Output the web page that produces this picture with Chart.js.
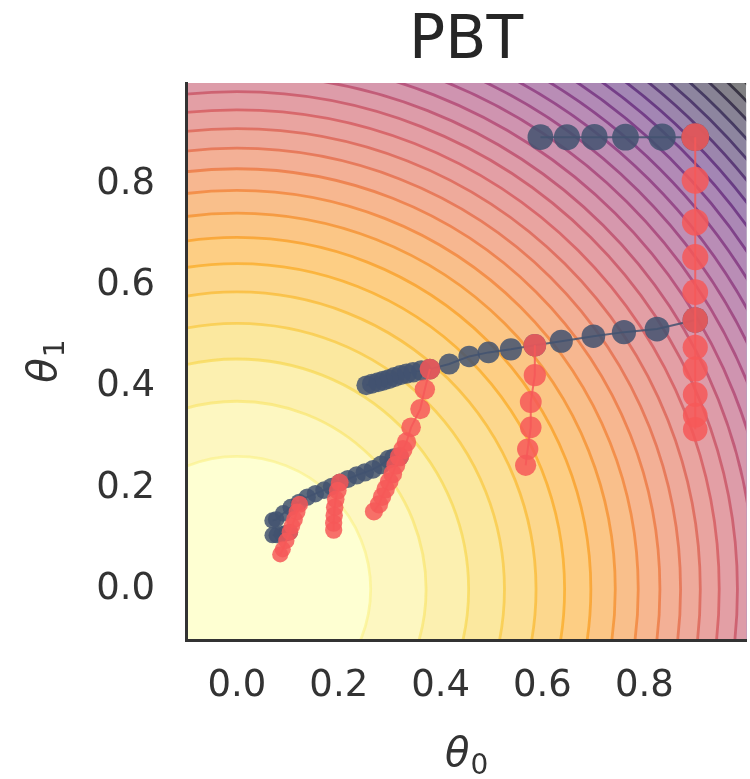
<!DOCTYPE html>
<html>
<head>
<meta charset="utf-8">
<script src="https://cdn.jsdelivr.net/npm/chart.js@4.4.1/dist/chart.umd.min.js"></script>
<style>
  html, body { margin: 0; padding: 0; overflow: hidden; background: #ffffff; width: 750px; height: 779px; }
  #wrap { width: 760px; height: 779px; position: relative; }
</style>
</head>
<body>
<div id="wrap"><canvas id="c" width="760" height="779"></canvas></div>
<script>
// ---------------- data ----------------
const chartTitle = 'PBT';
const xTitle = ['θ', '0'];   // θ with subscript 0
const yTitle = ['θ', '1'];   // θ with subscript 1
const xTicks = [0.0, 0.2, 0.4, 0.6, 0.8];
const yTicks = [0.0, 0.2, 0.4, 0.6, 0.8];

// objective Q(θ) = 1.2 − (θ0² + θ1²); filled contour levels of Q
const objectivePeak = 1.2;
const contourLevels = [-0.8, -0.731, -0.662, -0.593, -0.524, -0.455, -0.386, -0.317, -0.248, -0.179,
  -0.110, -0.041, 0.028, 0.097, 0.166, 0.234, 0.303, 0.372, 0.441, 0.510,
  0.579, 0.648, 0.717, 0.786, 0.855, 0.924, 0.993, 1.062, 1.131, 1.2];

// worker trajectories [θ0, θ1] (blue worker and red worker, one array per run between exploits)
const blueRun1 = [[0.900,0.893],[0.835,0.893],[0.763,0.893],[0.702,0.893],[0.648,0.893],[0.596,0.893]];
const blueRun2 = [[0.900,0.532],[0.825,0.514],[0.760,0.508],[0.700,0.500],[0.637,0.490],[0.585,0.482],
  [0.538,0.474],[0.494,0.468],[0.456,0.460],[0.417,0.445],[0.379,0.435],[0.362,0.432],[0.346,0.429],
  [0.333,0.426],[0.321,0.423],[0.309,0.419],[0.298,0.415],[0.287,0.412],[0.277,0.409],[0.265,0.406],[0.254,0.403]];
const blueRun3 = [[0.319,0.262],[0.308,0.260],[0.298,0.257],[0.283,0.246],[0.267,0.237],[0.251,0.231],
  [0.235,0.225],[0.218,0.218],[0.202,0.211],[0.186,0.203],[0.171,0.196],[0.154,0.189],[0.138,0.182],
  [0.122,0.172],[0.106,0.162],[0.091,0.150],[0.077,0.138],[0.070,0.136]];
const blueRun4 = [[0.104,0.113],[0.096,0.111],[0.088,0.109],[0.078,0.107],[0.070,0.107]];

const redRun1 = [[0.900,0.893],[0.900,0.808],[0.900,0.725],[0.900,0.656],[0.900,0.587],[0.900,0.532],
  [0.900,0.478],[0.900,0.435],[0.900,0.385],[0.900,0.344],[0.900,0.316]];
const redRun2 = [[0.585,0.482],[0.585,0.423],[0.577,0.370],[0.577,0.320],[0.571,0.277],[0.567,0.245]];
const redRun3 = [[0.379,0.435],[0.369,0.395],[0.360,0.356],[0.342,0.320],[0.333,0.291],[0.326,0.276],
  [0.319,0.262],[0.312,0.245],[0.306,0.228],[0.299,0.213],[0.292,0.198],[0.285,0.183],[0.279,0.168],[0.269,0.154]];
const redRun4 = [[0.202,0.211],[0.198,0.195],[0.194,0.178],[0.192,0.162],[0.191,0.146],[0.190,0.131],[0.190,0.117]];
const redRun5 = [[0.123,0.168],[0.118,0.153],[0.113,0.138],[0.108,0.125],[0.104,0.113],[0.097,0.096],
  [0.090,0.079],[0.085,0.069]];

// ---------------- styles ----------------
const INFERNO = ['#000004','#1B0C42','#4B0C6B','#781C6D','#A52C60','#CF4446','#ED6925','#FB9A06','#F7D03C','#FCFFA4']
  .map(h => [parseInt(h.slice(1,3),16), parseInt(h.slice(3,5),16), parseInt(h.slice(5,7),16)]);
function inferno(t) {
  t = Math.max(0, Math.min(1, t));
  const p = t * (INFERNO.length - 1);
  const i = Math.min(INFERNO.length - 2, Math.floor(p));
  const f = p - i;
  return INFERNO[i].map((v, k) => v + (INFERNO[i + 1][k] - v) * f);
}
const FILL_ALPHA = 0.5, LINE_ALPHA = 0.6;
const blend = (c, a) => `rgb(${c.map(v => Math.round(v * a + 255 * (1 - a))).join(',')})`;
const rgba = (c, a) => `rgba(${c.map(Math.round).join(',')},${a})`;

const BLUE = 'rgba(66,82,112,0.85)';
const RED = 'rgba(246,88,88,0.85)';
const TEXT = '#333333';

const contourPlugin = {
  id: 'contourBackground',
  beforeDraw(chart) {
    const { ctx, chartArea: a, scales: { x, y } } = chart;
    const cx = x.getPixelForValue(0), cy = y.getPixelForValue(0);
    const ux = x.getPixelForValue(1) - cx, uy = cy - y.getPixelForValue(1);
    const n = contourLevels.length;
    ctx.save();
    ctx.beginPath();
    ctx.rect(a.left, a.top, a.right - a.left, a.bottom - a.top);
    ctx.clip();
    ctx.fillStyle = blend(inferno(0), FILL_ALPHA);
    ctx.fillRect(a.left, a.top, a.right - a.left, a.bottom - a.top);
    for (let j = 1; j < n - 1; j++) {
      const r = Math.sqrt(objectivePeak - contourLevels[j]);
      ctx.beginPath();
      ctx.ellipse(cx, cy, r * ux, r * uy, 0, 0, Math.PI * 2);
      ctx.fillStyle = blend(inferno(j / (n - 2)), FILL_ALPHA);
      ctx.fill();
    }
    ctx.lineWidth = 2.8;
    for (let j = 0; j < n - 1; j++) {
      const r = Math.sqrt(objectivePeak - contourLevels[j]);
      ctx.beginPath();
      ctx.ellipse(cx, cy, r * ux, r * uy, 0, 0, Math.PI * 2);
      ctx.strokeStyle = rgba(inferno(j / (n - 1)), LINE_ALPHA);
      ctx.stroke();
    }
    ctx.restore();
  }
};

// axis titles: italic θ with a subscript digit
function drawSubscripted(ctx, parts, size) {
  ctx.font = `italic ${size}px "DejaVu Sans"`;
  const w1 = ctx.measureText(parts[0]).width;
  ctx.font = `${Math.round(size * 0.7)}px "DejaVu Sans"`;
  const w2 = ctx.measureText(parts[1]).width;
  const x0 = -(w1 + w2) / 2;
  ctx.textBaseline = 'alphabetic';
  ctx.textAlign = 'left';
  ctx.fillStyle = TEXT;
  ctx.font = `italic ${size}px "DejaVu Sans"`;
  ctx.fillText(parts[0], x0, 0);
  ctx.font = `${Math.round(size * 0.7)}px "DejaVu Sans"`;
  ctx.fillText(parts[1], x0 + w1 + 1, size * 0.2);
}
const axisTitlePlugin = {
  id: 'axisTitles',
  afterDraw(chart) {
    const { ctx, chartArea: a } = chart;
    ctx.save();
    ctx.translate((a.left + a.right) / 2, 766);
    drawSubscripted(ctx, xTitle, 40);
    ctx.restore();
    ctx.save();
    ctx.translate(56, (a.top + a.bottom) / 2);
    ctx.rotate(-Math.PI / 2);
    drawSubscripted(ctx, yTitle, 40);
    ctx.restore();
  }
};

const pts = arr => arr.map(([x, y]) => ({ x, y }));
const markerRadius = c => { const p = c.raw; return p ? 7.5 + 5 * Math.hypot(p.x, p.y) : 8; };
function run(data, color, order) {
  return {
    data: pts(data), showLine: true, order,
    borderColor: color, borderWidth: 2, tension: 0,
    backgroundColor: color, pointBackgroundColor: color, pointBorderWidth: 0,
    pointRadius: markerRadius, pointHoverRadius: markerRadius
  };
}

const tickFont = { family: 'DejaVu Sans', size: 37 };

new Chart(document.getElementById('c'), {
  type: 'scatter',
  data: {
    datasets: [
      run(redRun1, RED, 0), run(redRun2, RED, 0), run(redRun3, RED, 0), run(redRun4, RED, 0), run(redRun5, RED, 0),
      run(blueRun1, BLUE, 1), run(blueRun2, BLUE, 1), run(blueRun3, BLUE, 1), run(blueRun4, BLUE, 1)
    ]
  },
  plugins: [contourPlugin, axisTitlePlugin],
  options: {
    responsive: false,
    animation: false,
    events: [],
    devicePixelRatio: 1,
    layout: { padding: { left: 0, right: 2, top: 0, bottom: 0 } },
    plugins: {
      legend: { display: false },
      tooltip: { enabled: false },
      title: {
        display: true, text: chartTitle, fullSize: false, color: '#262626',
        font: { family: 'DejaVu Sans', size: 60, weight: 'normal', lineHeight: 1.0 },
        padding: { top: 12, bottom: 11 }
      }
    },
    scales: {
      x: {
        type: 'linear', min: -0.1, max: 1.0,
        afterBuildTicks: s => { s.ticks = xTicks.map(v => ({ value: v })); },
        afterFit: s => { s.height = 139; },
        ticks: { callback: v => Number(v).toFixed(1), font: tickFont, color: TEXT, padding: 24, maxRotation: 0, autoSkip: false },
        grid: { display: false, drawTicks: false },
        border: { display: true, color: '#333333', width: 3 },
        title: { display: false }
      },
      y: {
        type: 'linear', min: -0.1, max: 1.0,
        afterBuildTicks: s => { s.ticks = yTicks.map(v => ({ value: v })); },
        afterFit: s => { s.width = 186; },
        ticks: { callback: v => Number(v).toFixed(1), font: tickFont, color: TEXT, padding: 31, autoSkip: false },
        grid: { display: false, drawTicks: false },
        border: { display: true, color: '#333333', width: 3 },
        title: { display: false }
      }
    }
  }
});
</script>
</body>
</html>
